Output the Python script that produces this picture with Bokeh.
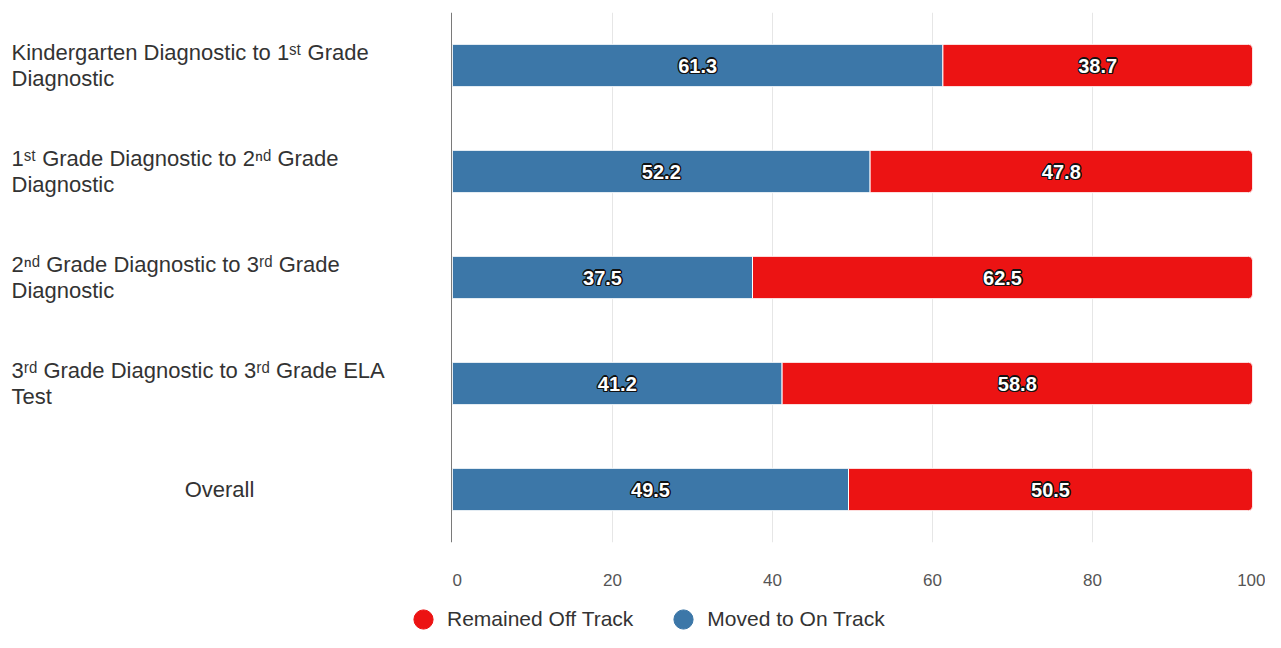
from bokeh.plotting import figure
from bokeh.layouts import row, column
from bokeh.models import Range1d, FixedTicker, Legend, LegendItem, ColumnDataSource, Span
from bokeh.core.properties import value
from bokeh.embed import file_html
from bokeh.resources import INLINE

# ---- data ----
categories = [
    "Kindergarten Diagnostic to 1\u02e2\u1d57 Grade\nDiagnostic",
    "1\u02e2\u1d57 Grade Diagnostic to 2\u207f\u1d48 Grade\nDiagnostic",
    "2\u207f\u1d48 Grade Diagnostic to 3\u02b3\u1d48 Grade\nDiagnostic",
    "3\u02b3\u1d48 Grade Diagnostic to 3\u02b3\u1d48 Grade ELA\nTest",
    "Overall",
]
on_track = [61.3, 52.2, 37.5, 41.2, 49.5]
off_track = [38.7, 47.8, 62.5, 58.8, 50.5]
x_ticks = [0, 20, 40, 60, 80, 100]
series_names = ["Remained Off Track", "Moved to On Track"]

BLUE = "#3c77a8"
RED = "#ec1313"
FONT = "Liberation Sans"

TOTAL_W = 1265
LEFT_W = 452
MAIN_H = 606
LEG_H = 26
TOP, BOTTOM = 12, 64

n = len(categories)
ypos = [i + 0.5 for i in range(n)]
y_range = Range1d(n, 0)

src = ColumnDataSource(dict(
    y=ypos,
    on=on_track,
    off_right=[a + b for a, b in zip(on_track, off_track)],
    on_mid=[a / 2 for a in on_track],
    off_mid=[a + b / 2 for a, b in zip(on_track, off_track)],
    on_txt=[f"{a:.1f}" for a in on_track],
    off_txt=[f"{b:.1f}" for b in off_track],
))

# ---------- left: category labels ----------
multi = ["\n" in c for c in categories]
lab_src = ColumnDataSource(dict(
    y=ypos,
    x=[11 if m else 219 for m in multi],
    align=["left" if m else "center" for m in multi],
    text=categories,
))
left = figure(width=LEFT_W, height=MAIN_H, x_range=Range1d(0, LEFT_W), y_range=y_range,
              output_backend="svg", toolbar_location=None,
              x_axis_location=None, y_axis_location=None,
              min_border_left=0, min_border_right=0, min_border_top=TOP, min_border_bottom=BOTTOM)
left.outline_line_color = None
left.grid.visible = False
left.text(x="x", y="y", text="text", text_align="align", source=lab_src,
          text_baseline="middle", text_font=value(FONT), text_font_size="22px",
          text_color="#333333", text_line_height=1.03)
left.add_layout(Span(location=LEFT_W - 0.5, dimension="height", line_color="#222222", line_width=1.2))

# ---------- main: bars ----------
p = figure(width=TOTAL_W - LEFT_W, height=MAIN_H, x_range=Range1d(0, 100), y_range=y_range,
           output_backend="svg", toolbar_location=None, y_axis_location=None,
           min_border_left=0, min_border_right=13, min_border_top=TOP, min_border_bottom=BOTTOM)
p.outline_line_color = None

p.xgrid.ticker = FixedTicker(ticks=x_ticks)
p.xgrid.grid_line_color = "#e6e6e6"
p.ygrid.grid_line_color = None

p.hbar(y="y", left=0, right="on", height=0.4, source=src, fill_color=BLUE,
       line_color="white", line_width=1)
p.hbar(y="y", left="on", right="off_right", height=0.4, source=src, fill_color=RED,
       line_color="white", line_width=1, border_radius=(0, 4, 4, 0))

common = dict(text_align="center", text_baseline="middle",
              text_font=value(FONT), text_font_style="bold", text_font_size="20px")
halo = [(-1.3, 0), (1.3, 0), (0, -1.3), (0, 1.3), (-1, -1), (1, -1), (-1, 1), (1, 1)]
for col in ("on", "off"):
    for dx, dy in halo:
        p.text(x=f"{col}_mid", y="y", text=f"{col}_txt", source=src, text_color="#111111",
               x_offset=dx, y_offset=dy, **common)
    p.text(x=f"{col}_mid", y="y", text=f"{col}_txt", source=src, text_color="white", **common)

p.xaxis.ticker = FixedTicker(ticks=x_ticks)
p.xaxis.axis_line_color = None
p.xaxis.major_tick_line_color = None
p.xaxis.minor_tick_line_color = None
p.xaxis.major_tick_out = 0
p.xaxis.major_label_standoff = 31
p.xaxis.major_label_text_font = FONT
p.xaxis.major_label_text_font_size = "17px"
p.xaxis.major_label_text_color = "#555555"

# ---------- legend strip ----------
lg = figure(width=TOTAL_W, height=LEG_H, x_range=Range1d(0, 1), y_range=Range1d(0, 1),
            output_backend="svg", toolbar_location=None,
            x_axis_location=None, y_axis_location=None,
            min_border_left=0, min_border_right=0, min_border_top=0, min_border_bottom=0)
lg.outline_line_color = None
lg.grid.visible = False
nan = float("nan")
r_off = lg.scatter(x=[nan], y=[nan], marker="circle", fill_color=RED, line_color=RED)
r_on = lg.scatter(x=[nan], y=[nan], marker="circle", fill_color=BLUE, line_color=BLUE)
legend = Legend(items=[LegendItem(label=series_names[0], renderers=[r_off]),
                       LegendItem(label=series_names[1], renderers=[r_on])],
                orientation="horizontal", location=(399, -11),
                glyph_width=48, glyph_height=48, label_standoff=0, spacing=26,
                padding=0, margin=0, border_line_color=None, background_fill_alpha=0,
                label_text_font=FONT, label_text_font_size="21px", label_text_color="#333333")
lg.add_layout(legend, "center")

layout = column(row(left, p), lg)
open("out.html", "w").write(file_html(layout, INLINE))
